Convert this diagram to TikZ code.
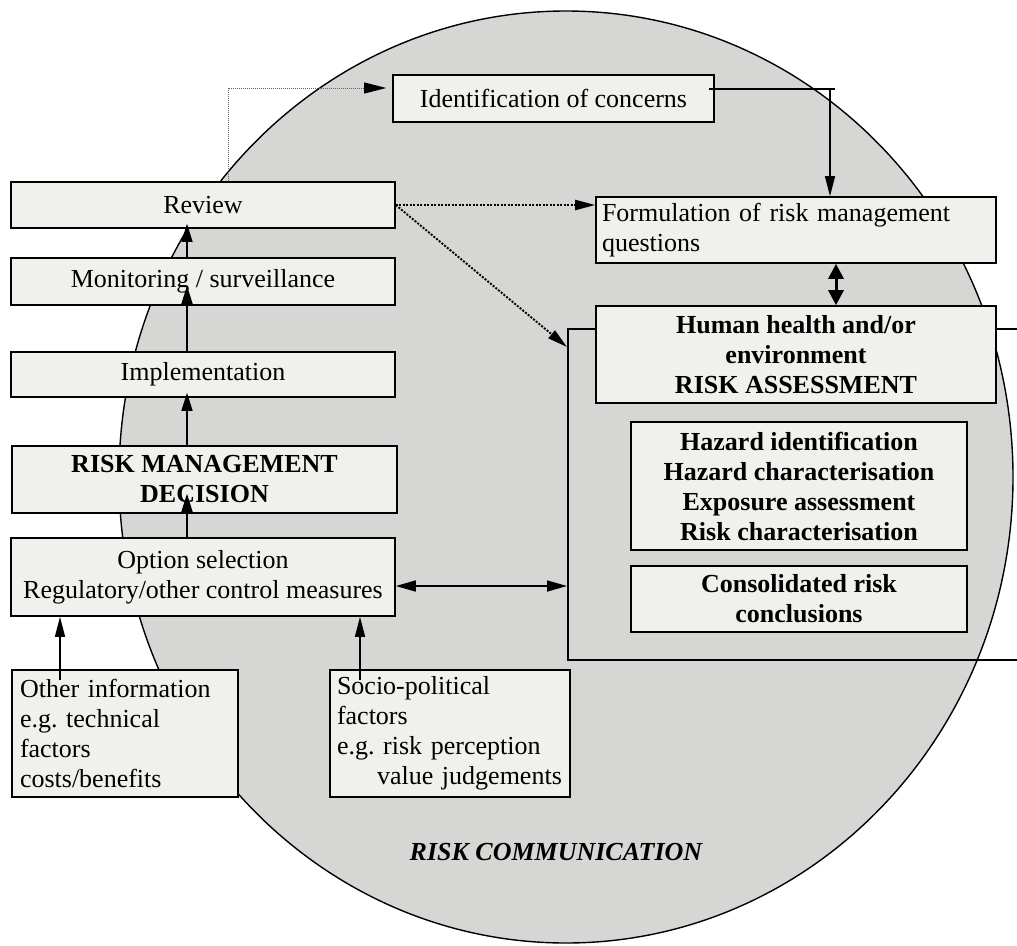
\documentclass[tikz,border=0pt]{standalone}
\usepackage{fontspec}
\setmainfont{Liberation Serif}
\usetikzlibrary{arrows.meta,calc}
\definecolor{boxfill}{RGB}{240,240,236}
\definecolor{discfill}{RGB}{214,214,212}
\frenchspacing
\begin{document}
\begin{tikzpicture}[x=1pt,y=-1pt,
  every node/.style={font=\fontsize{26}{30}\selectfont},
  box/.style={draw=black, line width=1.6pt, fill=boxfill, inner sep=0pt, align=center},
  boldbox/.style={box, font=\fontsize{26}{30}\selectfont\bfseries},
  tip/.style={-{Triangle[length=20pt,width=10pt]}},
  smalltip/.style={-{Triangle[length=18pt,width=11pt]}},
  dotline/.style={line width=2.2pt, dash pattern=on 2pt off 1.5pt},
  thinloop/.style={line width=0.9pt, draw=black!60, dash pattern=on 1pt off 1pt}]
\useasboundingbox (0,0) rectangle (1017,945);

% risk communication disc
\draw[line width=1.4pt, fill=discfill] (566,477) ellipse [x radius=447, y radius=466];
\node[font=\fontsize{26}{30}\selectfont\bfseries\itshape] (comm) at (556,852) {RISK COMMUNICATION};

% risk assessment frame (open towards the right margin)
\node[draw=black, line width=1.6pt, anchor=north west, minimum width=470pt, minimum height=331pt, inner sep=0pt] (frame) at (567,328) {};

% risk management column
\node[box, minimum width=384pt, minimum height=46pt] (review) at (203,205) {Review};
\node[box, minimum width=384pt, minimum height=47pt] (monitor) at (203,281.5) {Monitoring / surveillance};
\node[box, minimum width=384pt, minimum height=45pt] (impl) at (203,374.5) {Implementation};
\node[boldbox, minimum width=385pt, minimum height=67pt] (decision) at (204.5,479.5) {RISK MANAGEMENT\\DECISION};
\node[box, minimum width=384pt, minimum height=78pt] (option) at (203,577) {Option selection\\Regulatory/other control measures};

% inputs to option selection
\node[box, minimum width=226pt, minimum height=127pt, text width=210pt, align=left] (other) at (125,733.5)
  {Other information\\e.g. technical\\factors\\costs/benefits};
\node[box, minimum width=240pt, minimum height=127pt, text width=226pt, align=left] (socio) at (450,733.5)
  {Socio-political\\factors\\e.g. risk perception\\\hspace*{40pt}value judgements};

% problem formulation
\node[box, minimum width=321pt, minimum height=47pt] (ident) at (553.5,98.5) {Identification of concerns};
\node[box, minimum width=400pt, minimum height=66pt, text width=388pt, align=left] (formul) at (796,230)
  {Formulation of risk management\\questions};

% risk assessment
\node[boldbox, minimum width=400pt, minimum height=97pt] (human) at (796,354.5)
  {Human health and/or\\environment\\RISK ASSESSMENT};
\node[boldbox, minimum width=336pt, minimum height=128pt] (hazard) at (799,486)
  {Hazard identification\\Hazard characterisation\\Exposure assessment\\Risk characterisation};
\node[boldbox, minimum width=336pt, minimum height=66pt] (consol) at (799,599)
  {Consolidated risk\\conclusions};

% review feeds back to identification of concerns
\coordinate (loop) at (228,88);
\draw[thinloop, -{Triangle[length=22pt,width=11pt,color=black]}, shorten >=6pt]
  (review.north -| loop) -- (loop) -- (loop -| ident.west);

% identification of concerns -> formulation
\coordinate (idend) at (835,89);
\coordinate (iddrop) at (830,89);
\draw[line width=2.6pt] ($(ident.east |- idend)+(-6,0)$) -- (idend);
\draw[line width=1.3pt, tip] (iddrop) -- (iddrop |- formul.north);

% review -> formulation and -> risk assessment
\draw[dotline, tip] (review.east) -- (review.east -| formul.west);
\draw[dotline, line width=1.9pt, tip] (review.east) -- ($(frame.north west)+(0,19)$);

% formulation <-> risk assessment
\draw[line width=3pt, {Triangle[length=15pt,width=15pt]}-{Triangle[length=15pt,width=15pt]}]
  ($(formul.south)+(40,0)$) -- ($(human.north)+(40,0)$);

% option selection <-> risk assessment
\draw[line width=1.5pt, {Triangle[length=20pt,width=11pt]}-{Triangle[length=20pt,width=11pt]}]
  ($(option.east)+(0,9)$) -- ($(option.east -| frame.west)+(0,9)$);

% management sequence
\coordinate (col) at (187,0);
\draw[line width=1.4pt, smalltip] (col |- monitor.north) -- ($(col |- review.south)+(0,-5)$);
\draw[line width=1.4pt, smalltip] (col |- impl.north) -- ($(col |- monitor.south)+(0,-20)$);
\draw[line width=1.4pt, smalltip] (col |- decision.north) -- ($(col |- impl.south)+(0,-5)$);
\draw[line width=1.4pt, smalltip] (col |- option.north) -- ($(col |- decision.south)+(0,-20)$);

% inputs
\coordinate (oa) at (60,680);
\coordinate (sa) at (360,680);
\draw[line width=1.4pt, tip] (oa) -- (oa |- option.south);
\draw[line width=1.4pt, tip] (sa) -- (sa |- option.south);
\end{tikzpicture}
\end{document}
